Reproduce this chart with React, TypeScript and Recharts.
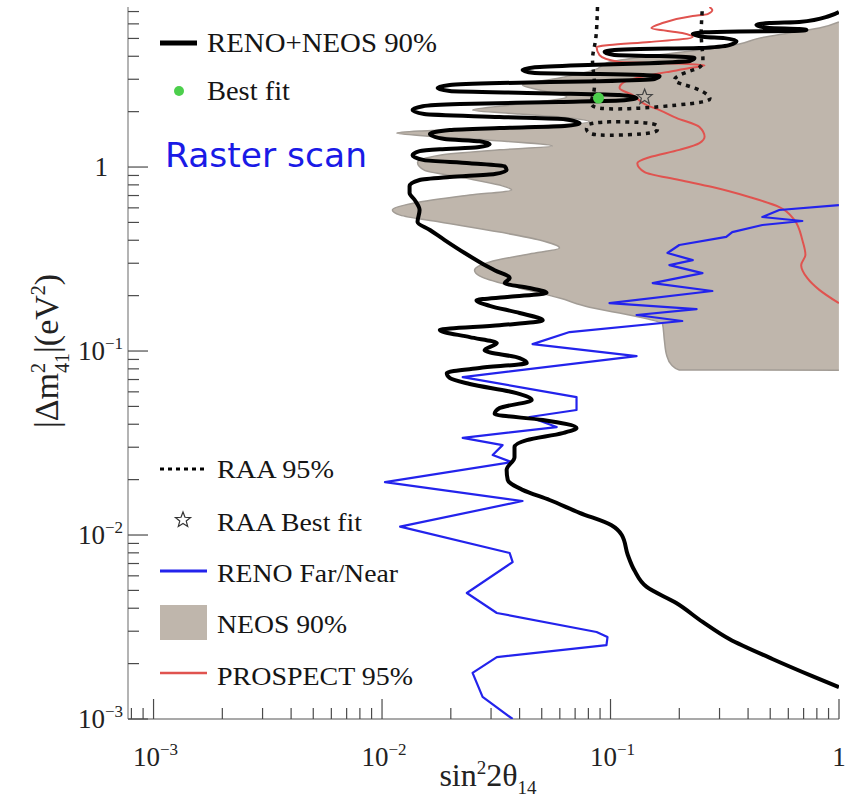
import React from "react";
import { ComposedChart, Scatter, XAxis, YAxis } from "recharts";

type Pair = [number, number];

// all pairs are [sin^2 2θ14, |Δm^2_41| in eV^2]
const renoNeos90: Pair[] = [
  [0.999, 6.96], [0.907, 6.62], [0.67, 6.14], [0.496, 6.06], [0.435, 5.91], [0.496, 5.69],
  [0.67, 5.62], [0.72, 5.55], [0.638, 5.49], [0.366, 5.46], [0.258, 5.4], [0.229, 5.28],
  [0.258, 5.09], [0.315, 5.02], [0.356, 4.84], [0.331, 4.6], [0.245, 4.43], [0.134, 4.38],
  [0.104, 4.32], [0.0942, 4.22], [0.104, 4.06], [0.164, 4.01], [0.233, 3.91], [0.222, 3.77],
  [0.148, 3.67], [0.0732, 3.58], [0.0466, 3.49], [0.0412, 3.37], [0.0466, 3.24], [0.0895, 3.2],
  [0.164, 3.12], [0.1557, 3.01], [0.0895, 2.93], [0.0327, 2.86], [0.0198, 2.79], [0.0175, 2.69],
  [0.0198, 2.59], [0.0489, 2.52], [0.1095, 2.46], [0.13, 2.37], [0.1151, 2.31], [0.0598, 2.26],
  [0.0219, 2.2], [0.01507, 2.14], [0.0136, 2.04], [0.0153, 1.94], [0.0327, 1.87], [0.063, 1.82],
  [0.0732, 1.73], [0.063, 1.67], [0.0327, 1.63], [0.0198, 1.59], [0.0162, 1.51], [0.0188, 1.42],
  [0.0267, 1.38], [0.0296, 1.33], [0.0262, 1.28], [0.0179, 1.25], [0.0146, 1.22], [0.0136, 1.16],
  [0.0153, 1.09], [0.0242, 1.05], [0.0344, 1.01], [0.0351, 0.963], [0.0311, 0.916],
  [0.0198, 0.882], [0.0146, 0.85], [0.0132, 0.788], [0.0132, 0.722], [0.0139, 0.662],
  [0.0146, 0.584], [0.0143, 0.503], [0.0162, 0.455], [0.0188, 0.401], [0.023, 0.341],
  [0.0267, 0.305], [0.0311, 0.275], [0.0362, 0.249], [0.0344, 0.234], [0.0442, 0.22],
  [0.0525, 0.207], [0.0362, 0.197], [0.0259, 0.189], [0.0296, 0.176], [0.04, 0.161],
  [0.0505, 0.147], [0.0327, 0.138], [0.0179, 0.13], [0.0242, 0.119], [0.0318, 0.1105],
  [0.0281, 0.101], [0.04, 0.0916], [0.043, 0.0861], [0.0267, 0.0809], [0.0192, 0.076],
  [0.0198, 0.0713], [0.0242, 0.0662], [0.0388, 0.0591], [0.0452, 0.0542], [0.0327, 0.049],
  [0.0311, 0.0455], [0.0505, 0.0422], [0.071, 0.0382], [0.0617, 0.0358], [0.043, 0.0328],
  [0.038, 0.0301], [0.038, 0.0265], [0.0351, 0.0226], [0.0355, 0.0199], [0.0412, 0.0176],
  [0.0541, 0.0155], [0.0732, 0.0132], [0.101, 0.0113], [0.112, 0.01], [0.119, 0.00779],
  [0.127, 0.00645], [0.144, 0.00522], [0.194, 0.00427], [0.253, 0.00337], [0.331, 0.00272],
  [0.511, 0.00212], [0.764, 0.00171], [0.999, 0.00149],
];

// NEOS 90% allowed region: its left edge from the top right down, then the flat bottom edge
const neos90Region: Pair[] = [
  [0.999, 6.14], [0.82, 5.69], [0.606, 5.35], [0.448, 5.02], [0.366, 4.66], [0.245, 4.32],
  [0.148, 4.01], [0.099, 3.72], [0.0851, 3.37], [0.0598, 3.05], [0.0412, 2.79], [0.0489, 2.62],
  [0.0643, 2.4], [0.04, 2.2], [0.0249, 2.04], [0.04, 1.94], [0.0662, 1.85], [0.0809, 1.76],
  [0.0489, 1.67], [0.0242, 1.61], [0.0146, 1.57], [0.0116, 1.53], [0.0162, 1.47], [0.0296, 1.4],
  [0.0557, 1.3], [0.0327, 1.24], [0.0179, 1.16], [0.0143, 1.06], [0.0153, 0.963], [0.0219, 0.882],
  [0.0327, 0.798], [0.0369, 0.75], [0.0242, 0.704], [0.0146, 0.645], [0.0111, 0.584],
  [0.012, 0.548], [0.0179, 0.503], [0.0327, 0.443], [0.0489, 0.401], [0.0598, 0.363],
  [0.0442, 0.337], [0.0296, 0.305], [0.0254, 0.275], [0.0267, 0.256], [0.04, 0.22],
  [0.0598, 0.194], [0.0809, 0.173], [0.127, 0.155], [0.169, 0.14], [0.172, 0.115],
  [0.176, 0.0951], [0.185, 0.0839], [0.2, 0.0788], [0.999, 0.0787],
];

const prospect95: Pair[] = [
  [0.271, 7.41], [0.279, 7.13], [0.266, 6.78], [0.229, 6.62], [0.169, 6.06], [0.151, 5.69],
  [0.206, 5.35], [0.229, 5.09], [0.148, 4.78], [0.099, 4.6], [0.0869, 4.49], [0.0895, 4.06],
  [0.1095, 3.72], [0.164, 3.67], [0.258, 3.58], [0.222, 3.45], [0.176, 3.28], [0.134, 3.08],
  [0.115, 2.9], [0.1095, 2.69], [0.125, 2.46], [0.144, 2.17], [0.164, 2.04], [0.194, 1.85],
  [0.245, 1.65], [0.258, 1.46], [0.245, 1.35], [0.2, 1.24], [0.148, 1.13], [0.131, 1.05],
  [0.141, 0.939], [0.2, 0.85], [0.279, 0.778], [0.405, 0.687], [0.548, 0.606], [0.638, 0.515],
  [0.691, 0.401], [0.713, 0.333], [0.683, 0.293], [0.727, 0.249], [0.82, 0.215], [0.999, 0.182],
];

const raa95: Pair[] = [
  [0.0877, 7.41], [0.086, 4.9], [0.0834, 3.81], [0.0851, 2.79], [0.0826, 2.31], [0.0895, 2.09],
  [0.134, 2.09], [0.194, 2.17], [0.2525, 2.26], [0.271, 2.4], [0.233, 2.69], [0.1905, 2.97],
  [0.222, 3.32], [0.2525, 3.67], [0.25, 4.9], [0.2525, 7.41],
];

const raa95Island: Pair[] = [
  [0.0809, 1.71], [0.099, 1.76], [0.148, 1.73], [0.1605, 1.63], [0.148, 1.53], [0.099, 1.49],
  [0.0809, 1.53], [0.0785, 1.63], [0.0809, 1.71],
];

const renoFarNear: Pair[] = [
  [0.999, 0.621], [0.548, 0.584], [0.462, 0.535], [0.691, 0.509], [0.462, 0.484], [0.341, 0.443],
  [0.321, 0.417], [0.2, 0.377], [0.1775, 0.341], [0.229, 0.312], [0.181, 0.293], [0.2525, 0.265],
  [0.153, 0.234], [0.279, 0.212], [0.099, 0.182], [0.238, 0.169], [0.13, 0.157], [0.206, 0.1456],
  [0.0662, 0.1268], [0.0456, 0.109], [0.13, 0.0939], [0.02255, 0.0722], [0.071, 0.0562],
  [0.071, 0.0478], [0.0442, 0.0438], [0.0581, 0.0386], [0.02255, 0.0337], [0.0337, 0.0308],
  [0.0305, 0.0272], [0.0369, 0.0249], [0.0103, 0.0194], [0.0412, 0.0153], [0.012, 0.0111],
  [0.0362, 0.00798], [0.0373, 0.00713], [0.0235, 0.00484], [0.0318, 0.00377], [0.0869, 0.00297],
  [0.097, 0.00279], [0.096, 0.00252], [0.0318, 0.00217], [0.0249, 0.00178], [0.02755, 0.00132],
  [0.0373, 0.001],
];

const bestFit: Pair[] = [[0.0886, 2.37]];
const raaBestFit: Pair[] = [[0.141, 2.4]];

const xTicks = [
  0.0008, 0.0009, 0.001, 0.002, 0.003, 0.004, 0.005, 0.006, 0.007, 0.008, 0.009,
  0.01, 0.02, 0.03, 0.04, 0.05, 0.06, 0.07, 0.08, 0.09,
  0.1, 0.2, 0.3, 0.4, 0.5, 0.6, 0.7, 0.8, 0.9, 1,
];
const yTicks = [
  0.001, 0.002, 0.003, 0.004, 0.005, 0.006, 0.007, 0.008, 0.009,
  0.01, 0.02, 0.03, 0.04, 0.05, 0.06, 0.07, 0.08, 0.09,
  0.1, 0.2, 0.3, 0.4, 0.5, 0.6, 0.7, 0.8, 0.9,
  1, 2, 3, 4, 5, 6, 7,
];
const xDomain: [number, number] = [0.000773, 1];
const yDomain: [number, number] = [0.001, 7.41];

const W = 846;
const H = 797;
const SERIF = '"Liberation Serif", "Times New Roman", serif';
const FRAME = "#8c8c8c";
const TICK = "#4a4a4a";
const NEOS_FILL = "#bfb6ac";
const BLUE = "#2323ec";
const RED = "#e0534f";
const GREEN = "#4ccf4c";

const toPoints = (d: Pair[]) => d.map(([x, y]) => ({ x, y }));

const isMajor = (v: number) => {
  const l = Math.log10(v);
  return Math.abs(l - Math.round(l)) < 1e-6;
};

const NoDot = () => <g />;

function PowLabel({ v, x, y, anchor }: { v: number; x: number; y: number; anchor: "middle" | "end" }) {
  if (Math.abs(v - 1) < 1e-9) {
    return (
      <text x={x} y={y} textAnchor={anchor} fontFamily={SERIF} fontSize={27} fill="#222">
        1
      </text>
    );
  }
  const e = Math.round(Math.log10(v));
  return (
    <text x={x} y={y} textAnchor={anchor} fontFamily={SERIF} fontSize={27} fill="#222">
      10
      <tspan dy={-11} fontSize={17}>{`\u2212${-e}`}</tspan>
    </text>
  );
}

const BottomTick = (p: any) => {
  const v = p.payload.value as number;
  const major = isMajor(v);
  return (
    <g>
      <line x1={p.x} x2={p.x} y1={p.y} y2={p.y - (major ? 20 : 11)} stroke={TICK} strokeWidth={1.2} />
      {major && <PowLabel v={v} x={v === 1 ? p.x : p.x + 2} y={p.y + 47} anchor="middle" />}
    </g>
  );
};

const TopTick = (p: any) => {
  const major = isMajor(p.payload.value);
  return <line x1={p.x} x2={p.x} y1={p.y} y2={p.y + (major ? 20 : 11)} stroke={TICK} strokeWidth={1.2} />;
};

const LeftTick = (p: any) => {
  const v = p.payload.value as number;
  const major = isMajor(v);
  return (
    <g>
      <line x1={p.x} x2={p.x + (major ? 20 : 11)} y1={p.y} y2={p.y} stroke={TICK} strokeWidth={1.2} />
      {major && <PowLabel v={v} x={v === 1 ? 108 : 123} y={p.y + 9} anchor="end" />}
    </g>
  );
};

const RightTick = (p: any) => {
  const major = isMajor(p.payload.value);
  return <line x1={p.x} x2={p.x - (major ? 20 : 11)} y1={p.y} y2={p.y} stroke={TICK} strokeWidth={1.2} />;
};

function starPoints(cx: number, cy: number, R: number, r: number) {
  const pts: string[] = [];
  for (let i = 0; i < 10; i++) {
    const a = -Math.PI / 2 + (i * Math.PI) / 5;
    const rad = i % 2 === 0 ? R : r;
    pts.push(`${cx + rad * Math.cos(a)},${cy + rad * Math.sin(a)}`);
  }
  return pts.join(" ");
}

const StarShape = (p: any) => (
  <polygon points={starPoints(p.cx, p.cy, 8, 3.4)} fill="none" stroke="#444" strokeWidth={1.2} />
);
const GreenDot = (p: any) => <circle cx={p.cx} cy={p.cy} r={5.5} fill={GREEN} />;

function Legend() {
  const txt = { fontFamily: SERIF, fill: "#151515", lengthAdjust: "spacingAndGlyphs" as const };
  return (
    <svg width={W} height={H} style={{ position: "absolute", left: 0, top: 0, pointerEvents: "none" }}>
      <line x1={160} x2={197} y1={43} y2={43} stroke="#000" strokeWidth={5} />
      <text x={207} y={52} fontSize={27} textLength={230} {...txt}>RENO+NEOS 90%</text>
      <circle cx={179} cy={91} r={5} fill={GREEN} />
      <text x={207} y={100} fontSize={27} textLength={83} {...txt}>Best fit</text>
      <text x={165} y={167} fontSize={33} fill="#1a1ae6" fontFamily='"DejaVu Sans", sans-serif'
        textLength={202} lengthAdjust="spacingAndGlyphs">Raster scan</text>

      <line x1={160} x2={207} y1={469} y2={469} stroke="#000" strokeWidth={3} strokeDasharray="4 4" />
      <text x={217} y={478} fontSize={25} textLength={117} {...txt}>RAA 95%</text>
      <polygon points={starPoints(183, 520, 8, 3.4)} fill="none" stroke="#333" strokeWidth={1.2} />
      <text x={217} y={531} fontSize={25} textLength={145} {...txt}>RAA Best fit</text>
      <line x1={160} x2={207} y1={571} y2={571} stroke={BLUE} strokeWidth={3} />
      <text x={217} y={582} fontSize={25} textLength={181} {...txt}>RENO Far/Near</text>
      <rect x={160} y={605} width={47} height={35} fill={NEOS_FILL} />
      <text x={217} y={633} fontSize={25} textLength={130} {...txt}>NEOS 90%</text>
      <line x1={160} x2={207} y1={673} y2={673} stroke={RED} strokeWidth={2.5} />
      <text x={217} y={685} fontSize={25} textLength={196} {...txt}>PROSPECT 95%</text>

      <text x={488} y={786} textAnchor="middle" fontFamily={SERIF} fontSize={32} fill="#222">
        sin<tspan dy={-12} fontSize={19}>2</tspan>
        <tspan dy={12}>2θ</tspan>
        <tspan dy={8} fontSize={19}>14</tspan>
      </text>
      <text transform="translate(58,351) rotate(-90)" textAnchor="middle" fontFamily={SERIF} fontSize={34} fill="#222">
        |Δm<tspan dy={-13} fontSize={20}>2</tspan>
        <tspan dx={-10} dy={24} fontSize={20}>41</tspan>
        <tspan dy={-11}>|(eV</tspan>
        <tspan dy={-13} fontSize={20}>2</tspan>
        <tspan dy={13}>)</tspan>
      </text>
    </svg>
  );
}

export default function App() {
  return (
    <div style={{ position: "absolute", left: 0, top: 0, width: W, height: H, background: "#fff" }}>
      <ComposedChart width={W} height={H} margin={{ top: 7, right: 7, bottom: 0, left: 0 }}>
        <XAxis dataKey="x" type="number" scale="log" domain={xDomain} allowDataOverflow ticks={xTicks}
          interval={0} tickSize={0} tickMargin={0} tickLine={false} height={78}
          axisLine={{ stroke: FRAME, strokeWidth: 1.3 }} tick={BottomTick} />
        <XAxis xAxisId="top" orientation="top" dataKey="x" type="number" scale="log" domain={xDomain}
          allowDataOverflow ticks={xTicks} interval={0} tickSize={0} tickMargin={0} tickLine={false}
          height={0} axisLine={{ stroke: FRAME, strokeWidth: 1.3 }} tick={TopTick} />
        <YAxis dataKey="y" type="number" scale="log" domain={yDomain} allowDataOverflow ticks={yTicks}
          interval={0} tickSize={0} tickMargin={0} tickLine={false} width={128}
          axisLine={{ stroke: FRAME, strokeWidth: 1.3 }} tick={LeftTick} />
        <YAxis yAxisId="right" orientation="right" dataKey="y" type="number" scale="log" domain={yDomain}
          allowDataOverflow ticks={yTicks} interval={0} tickSize={0} tickMargin={0} tickLine={false}
          width={0} axisLine={{ stroke: FRAME, strokeWidth: 1.3 }} tick={RightTick} />

        <Scatter data={toPoints(neos90Region)} isAnimationActive={false} shape={NoDot} lineType="joint"
          lineJointType="monotoneY" line={{ fill: NEOS_FILL, stroke: "#a29c95", strokeWidth: 1.5 }} />
        <Scatter data={toPoints(prospect95)} isAnimationActive={false} shape={NoDot} lineType="joint"
          lineJointType="monotoneY" line={{ stroke: RED, strokeWidth: 2, fill: "none" }} />
        <Scatter data={toPoints(renoFarNear)} isAnimationActive={false} shape={NoDot} lineType="joint"
          line={{ stroke: BLUE, strokeWidth: 2.2, fill: "none", strokeLinejoin: "round" }} />
        <Scatter data={toPoints(raa95)} isAnimationActive={false} shape={NoDot} lineType="joint"
          lineJointType="natural"
          line={{ stroke: "#111", strokeWidth: 3.5, fill: "none", strokeDasharray: "4 5" }} />
        <Scatter data={toPoints(raa95Island)} isAnimationActive={false} shape={NoDot} lineType="joint"
          lineJointType="natural"
          line={{ stroke: "#111", strokeWidth: 3.5, fill: "none", strokeDasharray: "4 5" }} />
        <Scatter data={toPoints(renoNeos90)} isAnimationActive={false} shape={NoDot} lineType="joint"
          lineJointType="monotoneY"
          line={{ stroke: "#000", strokeWidth: 4, fill: "none", strokeLinejoin: "round" }} />
        <Scatter data={toPoints(bestFit)} isAnimationActive={false} shape={GreenDot} />
        <Scatter data={toPoints(raaBestFit)} isAnimationActive={false} shape={StarShape} />
      </ComposedChart>
      <Legend />
    </div>
  );
}
